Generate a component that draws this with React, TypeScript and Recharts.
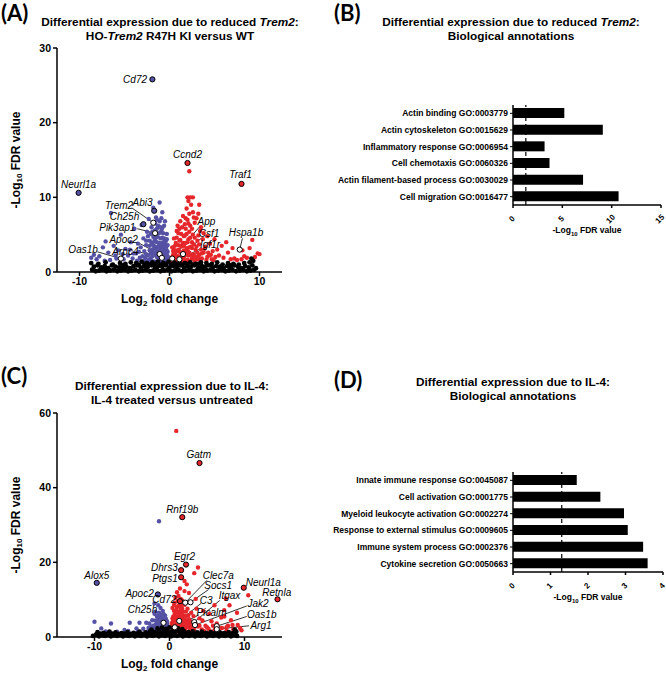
import React from 'react';
import { ScatterChart, Scatter, XAxis, YAxis, ReferenceLine, ReferenceDot, BarChart, Bar } from 'recharts';

const FONT = '"Liberation Sans", Arial, sans-serif';
const BLUE = '#5552a5';
const RED = '#e5262b';
const FDR_CUTOFF = 1.3; // -log10(0.05)

// ---- panel A: HO-Trem2 R47H KI vs WT ----
const blackA = [
  [-8.6, 0.3], [-8.2, 0.1], [-7.8, 0.2], [-7.4, 0.3], [-7.0, 0.1], [-6.6, 0.2], [-6.2, 0.3], [-5.8, 0.1], [-5.4, 0.2], [-5.0, 0.3],
  [-4.6, 0.1], [-4.2, 0.2], [-3.8, 0.3], [-3.4, 0.1], [-3.0, 0.2], [-2.6, 0.3], [-2.2, 0.1], [-1.8, 0.2], [-1.4, 0.3], [-1.0, 0.1],
  [-0.6, 0.2], [-0.2, 0.3], [0.2, 0.1], [0.6, 0.2], [1.0, 0.3], [1.4, 0.1], [1.8, 0.2], [2.2, 0.3], [2.6, 0.1], [3.0, 0.2],
  [3.4, 0.3], [3.8, 0.1], [4.2, 0.2], [4.6, 0.3], [5.0, 0.1], [5.4, 0.2], [5.8, 0.3], [6.2, 0.1], [6.6, 0.2], [7.0, 0.3],
  [7.4, 0.1], [7.8, 0.2], [8.2, 0.3], [8.6, 0.1], [9.0, 0.2], [9.4, 0.3],
  [-8.4, 0.7], [-8.0, 0.9], [-7.6, 0.6], [-7.2, 0.8], [-6.8, 0.5], [-6.4, 0.9], [-6.0, 0.7], [-5.6, 0.6], [-5.2, 0.9], [-4.8, 0.7],
  [-4.4, 0.5], [-4.0, 0.8], [-3.6, 0.9], [-3.2, 0.6], [-2.8, 0.8], [-2.4, 0.7], [-2.0, 0.9], [-1.6, 0.6], [-1.2, 0.8], [-0.8, 0.7],
  [-0.4, 0.9], [0.0, 0.6], [0.4, 0.8], [0.8, 0.7], [1.2, 0.9], [1.6, 0.6], [2.0, 0.8], [2.4, 0.7], [2.8, 0.9], [3.2, 0.6],
  [3.6, 0.8], [4.0, 0.7], [4.4, 0.9], [4.8, 0.6], [5.2, 0.8], [5.6, 0.7], [6.0, 0.5], [6.4, 0.8], [6.8, 0.6], [7.2, 0.9],
  [7.6, 0.7], [8.0, 0.5], [8.4, 0.8], [8.8, 0.6], [9.2, 0.9], [9.6, 0.5],
  [-8.7, 1.2], [-7.9, 1.1], [-7.1, 1.3], [-6.3, 1.0], [-5.5, 1.2], [-4.9, 1.1], [-4.3, 1.3], [-3.7, 1.2], [-3.1, 1.4], [-2.5, 1.2],
  [-1.9, 1.3], [-1.3, 1.4], [-0.7, 1.2], [-0.1, 1.4], [0.5, 1.3], [1.1, 1.4], [1.7, 1.2], [2.3, 1.3], [2.9, 1.1], [3.5, 1.3],
  [4.1, 1.2], [4.7, 1.1], [5.3, 1.3], [5.9, 1.0], [6.5, 1.2], [7.1, 1.1], [7.7, 1.0], [8.3, 1.2], [8.9, 1.3], [9.3, 1.5], [9.1, 1.8],
  [-3.4, 1.0], [-2.8, 1.1], [-2.2, 1.0], [-1.6, 1.1], [-1.0, 1.0], [-0.4, 1.1], [0.2, 1.0], [0.8, 1.1], [1.4, 1.0], [2.0, 1.1],
  [2.6, 1.0], [3.2, 1.1], [3.8, 0.4], [-5.2, 0.4], [-7.0, 0.5], [6.8, 0.9],
];
const blueA = [
  [-8.7, 1.9], [-8.4, 2.3], [-8.1, 1.7], [-7.8, 2.1], [-7.4, 3.3], [-7.1, 4.1], [-6.8, 2.6], [-6.5, 7.9], [-6.2, 3.5], [-5.9, 1.8],
  [-5.7, 2.9], [-5.4, 5.0], [-5.1, 1.7], [-4.9, 3.1], [-4.6, 2.2], [-4.3, 4.0], [-4.1, 1.8], [-3.9, 5.8], [-3.7, 2.5], [-3.5, 3.8],
  [-3.3, 1.9], [-3.1, 6.3], [-2.9, 4.5], [-2.8, 2.8], [-2.6, 3.6], [-2.5, 5.4], [-2.4, 2.2], [-2.3, 7.1], [-2.2, 4.2], [-2.1, 1.8],
  [-2.0, 6.0], [-1.9, 3.0], [-1.8, 8.6], [-1.7, 5.0], [-1.6, 2.5], [-1.5, 7.3], [-1.4, 4.0], [-1.3, 6.2], [-1.2, 2.0], [-1.1, 9.3],
  [-1.0, 3.2], [-0.9, 5.5], [-0.8, 8.0], [-0.7, 2.5], [-0.6, 4.5], [-0.5, 6.8], [-0.4, 2.0], [-0.3, 3.5], [-0.2, 1.8],
  [-2.8, 1.5], [-2.5, 1.4], [-2.2, 2.9], [-2.0, 1.5], [-1.9, 2.1], [-1.8, 3.6], [-1.7, 1.4], [-1.6, 4.4], [-1.5, 3.1], [-1.4, 2.0],
  [-1.3, 1.4], [-1.2, 3.5], [-1.1, 2.6], [-1.0, 1.5], [-1.0, 4.5], [-0.9, 2.2], [-0.9, 3.8], [-0.8, 1.4], [-0.8, 3.0], [-0.7, 4.0],
  [-0.7, 1.8], [-0.6, 2.8], [-0.6, 1.3], [-0.5, 3.0], [-0.5, 1.6], [-0.4, 2.6], [-0.3, 1.4], [-0.3, 2.3], [-0.2, 1.2], [-1.2, 5.2],
  [-1.4, 5.8], [-1.1, 6.8], [-0.9, 7.2], [-1.6, 6.5], [-2.4, 4.8], [-2.0, 3.9], [-1.3, 4.7], [-0.8, 5.9], [-0.6, 3.6], [-0.4, 4.2],
  [-0.3, 5.1], [-2.6, 2.4], [-3.0, 2.1], [-3.4, 2.7], [-1.9, 5.4], [-1.0, 6.0], [-1.7, 3.2], [-1.5, 2.3], [-0.2, 2.7],
  [-2.7, 1.9], [-2.3, 1.6], [-2.1, 2.5], [-1.9, 1.3], [-1.8, 2.6], [-1.7, 4.1], [-1.6, 3.4], [-1.5, 1.2], [-1.5, 4.8], [-1.4, 2.9],
  [-1.3, 3.1], [-1.2, 2.4], [-1.1, 1.6], [-1.1, 3.9], [-1.0, 2.3], [-1.0, 5.3], [-0.9, 1.6], [-0.9, 2.9], [-0.8, 3.5], [-0.8, 4.6],
  [-0.7, 3.3], [-0.7, 5.2], [-0.6, 2.2], [-0.6, 6.2], [-0.5, 2.5], [-0.5, 4.0], [-0.4, 1.5], [-0.4, 3.2], [-0.3, 2.9], [-0.3, 4.4],
  [-0.2, 2.1], [-0.2, 3.6], [-2.2, 3.5], [-2.0, 2.7], [-2.3, 1.3], [-1.8, 4.7], [-1.6, 5.6], [-1.2, 6.1], [-1.4, 7.0], [-2.1, 5.1],
  [-2.6, 4.2], [-3.2, 3.3], [-3.6, 1.5], [-4.0, 2.5], [-4.4, 3.0], [-5.2, 2.4], [-6.0, 2.2], [-6.6, 1.6], [-7.2, 1.5],
];
const redA = [
  [0.2, 1.3], [0.3, 2.0], [0.4, 2.8], [0.5, 1.6], [0.6, 3.5], [0.7, 2.2], [0.8, 5.5], [0.9, 1.4], [1.0, 3.0], [1.1, 4.2],
  [1.2, 1.8], [1.2, 6.8], [1.3, 2.6], [1.4, 3.6], [1.5, 7.5], [1.5, 1.5], [1.6, 4.8], [1.7, 2.2], [1.8, 5.8], [1.9, 8.5],
  [1.9, 3.2], [2.0, 10.0], [2.0, 1.6], [2.1, 4.4], [2.1, 9.5], [2.2, 2.6], [2.3, 10.0], [2.3, 6.2], [2.4, 9.0], [2.4, 3.4],
  [2.5, 1.8], [2.6, 8.0], [2.6, 5.0], [2.7, 2.4], [2.8, 6.6], [2.9, 3.0], [3.0, 7.2], [3.0, 1.7], [3.1, 4.2], [3.2, 7.8],
  [3.3, 2.3], [3.4, 5.5], [3.5, 6.0], [3.5, 3.0], [3.6, 1.8], [3.8, 5.2], [3.8, 2.6], [4.0, 3.4], [4.1, 1.6], [4.2, 4.8],
  [4.4, 2.2], [4.5, 3.8], [4.7, 1.7], [4.8, 2.8], [5.0, 4.4], [5.1, 2.0], [5.3, 3.0], [5.5, 2.2], [5.8, 3.5], [6.0, 1.9],
  [6.3, 4.0], [6.5, 2.6], [6.8, 1.7], [7.0, 3.2], [7.2, 1.8], [7.5, 1.6], [8.0, 1.7], [8.1, 2.9], [8.3, 2.1], [8.6, 1.9],
  [8.9, 3.2], [9.2, 4.3], [9.5, 2.0], [9.8, 2.5], [10.0, 2.4], [2.2, 13.5], [0.5, 4.5], [0.7, 1.9], [1.0, 2.1], [1.3, 5.1],
  [1.6, 2.9], [1.7, 6.4], [2.0, 7.0], [2.5, 4.0], [2.8, 1.5], [3.2, 2.0], [3.7, 4.4], [4.3, 2.6], [0.4, 1.1], [1.1, 1.2],
  [0.9, 6.2], [2.6, 10.0], [3.3, 9.0],
  [0.3, 1.6], [0.4, 2.3], [0.5, 3.0], [0.6, 1.3], [0.6, 2.6], [0.7, 3.9], [0.8, 1.7], [0.8, 4.6], [0.9, 2.9], [1.0, 3.6],
  [1.0, 5.2], [1.1, 1.9], [1.1, 2.7], [1.2, 4.3], [1.3, 1.5], [1.3, 3.4], [1.4, 2.2], [1.4, 6.0], [1.5, 3.9], [1.6, 1.9],
  [1.6, 3.5], [1.7, 4.9], [1.8, 2.5], [1.8, 3.9], [1.9, 1.5], [1.9, 5.1], [2.0, 2.9], [2.0, 4.0], [2.1, 2.2], [2.1, 6.5],
  [2.2, 3.3], [2.2, 5.4], [2.3, 1.5], [2.3, 4.6], [2.4, 2.3], [2.5, 3.2], [2.5, 5.8], [2.6, 2.1], [2.7, 3.7], [2.8, 4.6],
  [2.9, 2.0], [3.0, 3.4], [3.1, 2.6], [3.2, 4.9], [3.3, 3.7], [3.4, 1.6], [3.6, 2.5], [3.9, 3.1], [4.2, 2.0], [4.6, 2.3],
  [4.9, 1.6], [2.2, 7.8], [1.8, 7.2], [2.7, 7.3], [1.1, 5.8], [0.5, 2.0], [0.3, 3.3],
];
const genesA = [
  { name: 'Cd72', x: -1.9, y: 25.8, up: false, lx: -2.5, ly: 25.8, align: 'end' },
  { name: 'Neurl1a', x: -10.1, y: 10.6, up: false, lx: -10.1, ly: 11.7, align: 'middle' },
  { name: 'Ccnd2', x: 2.0, y: 14.6, up: true, lx: 2.0, ly: 15.8, align: 'middle' },
  { name: 'Traf1', x: 8.0, y: 11.8, up: true, lx: 7.9, ly: 13.0, align: 'middle' },
  { name: 'Hspa1b', x: 7.8, y: 3.0, up: true, lx: 8.5, ly: 5.3, align: 'middle', sx: 8.1, sy: 4.5 },
  { name: 'Abi3', x: -1.7, y: 8.2, up: false, lx: -3.0, ly: 9.3, align: 'middle' },
  { name: 'Trem2', x: -1.8, y: 6.6, up: false, lx: -5.6, ly: 8.9, align: 'middle', sx: -4.2, sy: 8.6 },
  { name: 'Ch25h', x: -2.9, y: 6.4, up: false, lx: -5.0, ly: 7.4, align: 'middle' },
  { name: 'Pik3ap1', x: -1.6, y: 5.2, up: false, lx: -5.8, ly: 5.9, align: 'middle', sx: -3.6, sy: 5.8 },
  { name: 'Apoc2', x: -1.1, y: 2.4, up: false, lx: -5.1, ly: 4.3, align: 'middle', sx: -3.6, sy: 4.0 },
  { name: 'Arpc4', x: -0.85, y: 1.9, up: false, lx: -4.9, ly: 2.8, align: 'middle', sx: -3.4, sy: 2.7 },
  { name: 'Oas1b', x: -5.4, y: 1.8, up: false, lx: -9.6, ly: 3.0, align: 'middle', sx: -8.0, sy: 2.7 },
  { name: 'App', x: 0.3, y: 1.8, up: true, lx: 4.1, ly: 6.7, align: 'middle', sx: 3.3, sy: 6.0 },
  { name: 'Csf1', x: 1.5, y: 2.4, up: true, lx: 4.4, ly: 5.2, align: 'middle', sx: 3.5, sy: 4.5 },
  { name: 'Igf1r', x: 1.1, y: 1.7, up: true, lx: 4.5, ly: 3.7, align: 'middle', sx: 3.6, sy: 3.2 },
];

// ---- panel C: IL-4 treated vs untreated ----
const blackC = [
  [-10.2, 0.3], [-9.8, 0.6], [-9.4, 0.2], [-9.0, 0.5], [-8.6, 0.3], [-8.2, 0.6], [-7.8, 0.2], [-7.4, 0.5], [-7.0, 0.3], [-6.6, 0.6],
  [-6.2, 0.2], [-5.8, 0.5], [-5.4, 0.3], [-5.0, 0.6], [-4.6, 0.2], [-4.2, 0.5], [-3.8, 0.3], [-3.4, 0.6], [-3.0, 0.2], [-2.6, 0.5],
  [-2.2, 0.3], [-1.8, 0.6], [-1.4, 0.2], [-1.0, 0.5], [-0.6, 0.3], [-0.2, 0.6], [0.2, 0.2], [0.6, 0.5], [1.0, 0.3], [1.4, 0.6],
  [1.8, 0.2], [2.2, 0.5], [2.6, 0.3], [3.0, 0.6], [3.4, 0.2], [3.8, 0.5], [4.2, 0.3], [4.6, 0.6], [5.0, 0.2], [5.4, 0.5],
  [5.8, 0.3], [6.2, 0.6], [6.6, 0.2], [7.0, 0.5], [7.4, 0.3], [7.8, 0.6], [8.2, 0.2], [8.6, 0.5], [9.0, 0.3],
  [-9.6, 1.3], [-8.8, 1.1], [-8.0, 1.4], [-7.2, 1.2], [-6.4, 1.0], [-5.6, 1.3], [-4.8, 1.1], [-4.0, 1.4], [-3.2, 1.2], [-2.6, 1.5],
  [-2.0, 1.3], [-1.4, 1.6], [-0.8, 1.4], [-0.3, 1.7], [0.3, 1.5], [0.8, 1.7], [1.3, 1.4], [1.9, 1.6], [2.5, 1.3], [3.1, 1.5],
  [3.7, 1.2], [4.3, 1.4], [4.9, 1.1], [5.5, 1.3], [6.1, 1.0], [6.7, 1.2], [7.3, 1.0], [7.9, 1.3], [8.5, 1.1], [8.9, 1.4],
  [-1.6, 2.3], [-1.0, 2.5], [-0.5, 2.2], [0.0, 2.6], [0.5, 2.3], [1.1, 2.4], [-2.4, 2.0], [1.7, 2.1], [8.7, 2.0],
  [-9.2, 0.9], [-8.4, 0.8], [-7.6, 0.9], [-6.8, 0.8], [-6.0, 0.9], [-5.2, 0.8], [-4.4, 0.9], [-3.6, 0.8], [-2.9, 0.9], [-2.3, 1.0],
  [-1.7, 0.9], [-1.1, 1.0], [-0.5, 0.9], [0.1, 1.1], [0.7, 0.9], [1.6, 1.0], [2.2, 0.9], [2.8, 1.0], [3.4, 0.9], [4.0, 0.8],
  [4.6, 0.9], [5.2, 0.8], [5.8, 0.9], [6.4, 0.8], [7.0, 0.9], [7.6, 0.8], [8.2, 0.9],
];
const blueC = [
  [-10.0, 4.1], [-9.1, 2.3], [-7.8, 3.6], [-6.0, 1.9], [-5.3, 3.8], [-4.4, 2.3], [-4.2, 1.5], [-4.0, 3.8], [-3.1, 3.8], [-2.7, 3.6],
  [-2.0, 9.0], [-1.5, 8.5], [-1.6, 5.5], [-1.4, 31.0], [-8.5, 1.5], [-7.0, 1.4], [-5.5, 1.6], [-3.5, 2.2], [-2.9, 1.5], [-2.5, 2.6],
  [-2.3, 4.5], [-2.2, 2.0], [-2.0, 6.2], [-1.9, 3.2], [-1.8, 1.6], [-1.7, 4.2], [-1.5, 2.4], [-1.4, 6.5], [-1.3, 3.5], [-1.2, 1.8],
  [-1.1, 5.0], [-1.0, 2.8], [-0.9, 7.0], [-0.9, 4.0], [-0.8, 1.6], [-0.7, 3.0], [-0.6, 5.8], [-0.5, 2.2], [-0.4, 4.4], [-0.3, 1.7],
  [-0.3, 3.3], [-0.2, 2.5], [-1.6, 1.3], [-1.1, 1.3], [-0.6, 1.4], [-2.4, 1.4], [-1.3, 2.3], [-0.8, 2.4], [-0.5, 3.6], [-1.2, 4.4],
  [-1.0, 6.0],
  [-2.2, 3.0], [-2.0, 1.8], [-1.9, 4.4], [-1.8, 2.6], [-1.7, 5.6], [-1.6, 3.6], [-1.5, 1.6], [-1.5, 4.8], [-1.4, 2.8], [-1.3, 4.2],
  [-1.3, 5.5], [-1.2, 3.0], [-1.1, 2.0], [-1.1, 3.8], [-1.0, 4.8], [-0.9, 2.2], [-0.9, 5.5], [-0.8, 3.4], [-0.7, 2.0], [-0.7, 4.6],
  [-0.6, 3.2], [-0.5, 1.8], [-0.5, 5.0], [-0.4, 2.8], [-0.3, 4.0], [-0.2, 1.6], [-1.9, 6.8], [-1.2, 7.8], [-0.8, 6.2], [-2.8, 2.4],
];
const redC = [
  [0.9, 55.2], [3.8, 18.6], [3.3, 17.1], [2.0, 15.0], [2.3, 14.1], [1.4, 13.0], [2.6, 11.8], [1.2, 11.0], [3.5, 10.2], [0.8, 10.5],
  [2.0, 12.3], [1.6, 8.8], [1.0, 8.0], [2.4, 7.6], [0.6, 7.0], [1.8, 6.8], [1.3, 6.2], [2.9, 6.5], [0.5, 5.5], [1.1, 5.0],
  [2.2, 5.6], [0.4, 4.0], [0.9, 3.6], [1.6, 4.4], [2.6, 4.8], [0.3, 2.6], [0.7, 2.0], [1.2, 3.0], [1.9, 3.3], [2.4, 2.8],
  [0.5, 1.6], [1.0, 1.5], [1.5, 2.2], [2.1, 1.8], [2.8, 2.2], [3.3, 1.9], [3.8, 2.8], [4.3, 2.0], [4.8, 3.0], [5.2, 2.2],
  [5.6, 4.2], [6.0, 1.9], [6.5, 2.8], [6.9, 5.2], [7.3, 7.2], [7.3, 5.5], [7.5, 10.3], [7.8, 3.0], [8.2, 4.5], [8.5, 2.0],
  [9.1, 3.2], [9.4, 2.4], [10.5, 11.2], [9.0, 6.5], [8.0, 8.5], [6.0, 8.5], [5.3, 6.2], [4.5, 7.0], [4.0, 5.0], [3.0, 3.8],
  [1.7, 9.8], [1.0, 12.0], [1.5, 10.2], [0.8, 3.0], [0.6, 8.6], [3.6, 7.6], [2.2, 3.8], [1.3, 1.8], [2.7, 1.6], [4.6, 1.6],
  [5.5, 1.5], [6.6, 1.6], [7.6, 1.7], [8.8, 1.5], [9.6, 1.8],
  [0.3, 3.6], [0.4, 5.0], [0.4, 7.8], [0.5, 2.8], [0.6, 4.4], [0.7, 6.2], [0.7, 9.2], [0.8, 1.8], [0.8, 5.4], [0.9, 4.6],
  [0.9, 7.2], [1.0, 2.6], [1.0, 6.6], [1.1, 3.8], [1.1, 9.6], [1.2, 5.8], [1.2, 8.4], [1.3, 2.4], [1.3, 4.8], [1.4, 7.0],
  [1.4, 3.4], [1.5, 5.2], [1.5, 8.0], [1.6, 2.8], [1.6, 6.2], [1.7, 3.8], [1.7, 7.6], [1.8, 4.8], [1.9, 2.4], [1.9, 5.8],
  [2.0, 3.6], [2.0, 8.6], [2.1, 4.6], [2.2, 6.8], [2.3, 2.6], [2.4, 4.0], [2.5, 5.8], [2.6, 3.2], [2.8, 4.2], [3.0, 2.8],
  [3.2, 5.6], [3.5, 3.4], [4.0, 3.0], [4.4, 4.4], [5.0, 2.6], [5.8, 3.0], [6.3, 3.6], [7.0, 2.4], [7.6, 2.6], [8.4, 3.2],
];
const genesC = [
  { name: 'Gatm', x: 4.0, y: 46.6, up: true, lx: 3.9, ly: 48.8, align: 'middle' },
  { name: 'Rnf19b', x: 1.7, y: 32.1, up: true, lx: 1.7, ly: 34.2, align: 'middle' },
  { name: 'Egr2', x: 2.2, y: 19.4, up: true, lx: 2.0, ly: 21.6, align: 'middle' },
  { name: 'Dhrs3', x: 1.55, y: 17.9, up: true, lx: 1.1, ly: 18.5, align: 'end' },
  { name: 'Ptgs1', x: 1.55, y: 16.0, up: true, lx: 1.1, ly: 15.7, align: 'end' },
  { name: 'Clec7a', x: 2.1, y: 9.2, up: true, lx: 6.5, ly: 16.6, align: 'middle', sx: 5.0, sy: 15.2 },
  { name: 'Socs1', x: 2.8, y: 9.3, up: true, lx: 6.5, ly: 13.9, align: 'middle', sx: 5.2, sy: 12.7 },
  { name: 'Cd72', x: 1.4, y: 9.6, up: true, lx: 0.9, ly: 10.0, align: 'end' },
  { name: 'C3', x: 1.3, y: 4.3, up: true, lx: 4.9, ly: 9.9, align: 'middle', sx: 4.2, sy: 9.0 },
  { name: 'Itgax', x: 3.3, y: 4.0, up: true, lx: 8.0, ly: 11.0, align: 'middle', sx: 6.7, sy: 9.8 },
  { name: 'Picalm', x: 0.7, y: 2.6, up: true, lx: 5.6, ly: 6.6, align: 'middle', sx: 3.9, sy: 5.9 },
  { name: 'Jak2', x: 3.4, y: 3.2, up: true, lx: 11.8, ly: 8.9, align: 'middle', sx: 10.3, sy: 8.3 },
  { name: 'Oas1b', x: 6.3, y: 2.9, up: true, lx: 12.3, ly: 5.9, align: 'middle', sx: 10.3, sy: 5.5 },
  { name: 'Arg1', x: 6.3, y: 2.1, up: true, lx: 12.2, ly: 3.1, align: 'middle', sx: 10.6, sy: 3.0 },
  { name: 'Neurl1a', x: 9.9, y: 13.2, up: true, lx: 12.5, ly: 14.6, align: 'middle' },
  { name: 'Retnla', x: 14.4, y: 10.1, up: true, lx: 14.3, ly: 11.9, align: 'middle' },
  { name: 'Alox5', x: -9.7, y: 14.5, up: false, lx: -9.7, ly: 16.6, align: 'middle' },
  { name: 'Apoc2', x: -1.55, y: 11.4, up: false, lx: -2.1, ly: 11.6, align: 'end' },
  { name: 'Ch25h', x: -0.8, y: 3.8, up: false, lx: -3.6, ly: 7.4, align: 'middle', sx: -2.2, sy: 6.3 },
];

// ---- panels B and D: GO annotations ----
const termsB = [
  'Actin binding GO:0003779', 'Actin cytoskeleton GO:0015629', 'Inflammatory response GO:0006954',
  'Cell chemotaxis GO:0060326', 'Actin filament-based process GO:0030029', 'Cell migration GO:0016477',
];
const fdrB = [5.2, 9.1, 3.2, 3.7, 7.1, 10.7];
const termsD = [
  'Innate immune response GO:0045087', 'Cell activation GO:0001775', 'Myeloid leukocyte activation GO:0002274',
  'Response to external stimulus GO:0009605', 'Immune system process GO:0002376', 'Cytokine secretion GO:0050663',
];
const fdrD = [1.7, 2.33, 2.96, 3.06, 3.47, 3.59];

const AXIS = { stroke: '#000', strokeWidth: 1.5 };
const TICK = { fill: '#000', fontSize: 10.5, fontWeight: 700, fontFamily: FONT };

const toPts = (a: number[][]) => a.map(([x, y]) => ({ x, y }));
const dot = (color: string, r: number) => (p: any) => <circle cx={p.cx} cy={p.cy} r={r} fill={color} />;

function geneDot(p: any) {
  const g = p.payload;
  const fill = g.sx != null ? '#fff' : g.up ? RED : BLUE;
  return <circle cx={p.cx} cy={p.cy} r={2.6} fill={fill} stroke="#000" strokeWidth={1} />;
}

function FcTitle(props: any) {
  const { x, y, width } = props.viewBox;
  return (
    <text x={x + width / 2} y={y + 31} textAnchor="middle" fontSize={12} fontWeight={700} fontFamily={FONT} fill="#000">
      Log<tspan dy={3} fontSize={8}>2</tspan><tspan dy={-3}> fold change</tspan>
    </text>
  );
}

function FdrTitle(props: any) {
  const { x, y, height } = props.viewBox;
  const cx = x + 9, cy = y + height / 2;
  return (
    <text x={cx} y={cy} transform={`rotate(-90, ${cx}, ${cy})`} textAnchor="middle" dominantBaseline="central"
      fontSize={12} fontWeight={700} fontFamily={FONT} fill="#000">
      -Log<tspan dy={3} fontSize={8}>10</tspan><tspan dy={-3}> FDR value</tspan>
    </text>
  );
}

function Volcano({ left, top, black, blue, red, genes, xDomain, yDomain, xTicks, yTicks }: any) {
  return (
    <div style={{ position: 'absolute', left, top }}>
      <ScatterChart width={300} height={310} margin={{ top: 48, right: 18, left: 7, bottom: 8 }}>
        <XAxis type="number" dataKey="x" domain={xDomain} ticks={xTicks} interval={0} height={30}
          axisLine={AXIS} tickLine={AXIS} tickSize={4} tick={TICK} label={{ content: (p: any) => <FcTitle {...p} /> }} />
        <YAxis type="number" dataKey="y" domain={yDomain} ticks={yTicks} interval={0} width={50}
          axisLine={AXIS} tickLine={AXIS} tickSize={4} tick={TICK} label={{ content: (p: any) => <FdrTitle {...p} /> }} />
        <Scatter data={toPts(blue)} shape={dot(BLUE, 2.2)} isAnimationActive={false} />
        <Scatter data={toPts(red)} shape={dot(RED, 2.2)} isAnimationActive={false} />
        <Scatter data={toPts(black)} shape={dot('#000', 2.4)} isAnimationActive={false} />
        {genes.filter((g: any) => g.sx != null).map((g: any) => (
          <ReferenceLine key={'ln-' + g.name} segment={[{ x: g.sx, y: g.sy }, { x: g.x, y: g.y }]}
            stroke="#000" strokeWidth={0.8} ifOverflow="visible" />
        ))}
        <Scatter data={genes} shape={geneDot} isAnimationActive={false} />
        {genes.map((g: any) => (
          <ReferenceDot key={'lb-' + g.name} x={g.lx} y={g.ly} r={0} ifOverflow="visible"
            shape={(p: any) => (
              <text x={p.cx} y={p.cy} dy="0.35em" textAnchor={g.align} fontSize={10} fontStyle="italic"
                fontFamily={FONT} fill="#000">{g.name}</text>
            )} />
        ))}
      </ScatterChart>
    </div>
  );
}

function RotTick({ x, y, payload }: any) {
  const tx = x - 1, ty = y + 9;
  return (
    <text x={tx} y={ty} transform={`rotate(-45, ${tx}, ${ty})`} textAnchor="middle" dominantBaseline="central"
      fontSize={8} fontWeight={700} fontFamily={FONT} fill="#000">{payload.value}</text>
  );
}

function TermTick({ x, y, payload }: any) {
  return (
    <text x={x} y={y} dy="0.35em" textAnchor="end" fontSize={8.5} fontWeight={700} fontFamily={FONT} fill="#000">
      {payload.value}
    </text>
  );
}

function BarTitle(props: any) {
  const { x, y, width } = props.viewBox;
  return (
    <text x={x + width / 2} y={y + 28} textAnchor="middle" fontSize={8.5} fontWeight={700} fontFamily={FONT} fill="#000">
      -Log<tspan dy={2.5} fontSize={6}>10</tspan><tspan dy={-2.5}> FDR value</tspan>
    </text>
  );
}

function GoBars({ left, top, height, marginTop, marginRight, terms, values, max, ticks }: any) {
  const data = terms.map((t: string, i: number) => ({ term: t, fdr: values[i] }));
  return (
    <div style={{ position: 'absolute', left, top }}>
      <BarChart layout="vertical" width={333} height={height} data={data} barSize={10}
        margin={{ top: marginTop, right: marginRight, left: 0, bottom: height - marginTop - 140 }}>
        <XAxis type="number" domain={[0, max]} ticks={ticks} interval={0} height={40}
          axisLine={AXIS} tickLine={AXIS} tickSize={3} tick={<RotTick />} label={{ content: (p: any) => <BarTitle {...p} /> }} />
        <YAxis type="category" dataKey="term" width={180} interval={0} axisLine={AXIS}
          tickLine={{ stroke: '#000', strokeWidth: 1 }} tickSize={3} tick={<TermTick />} />
        <Bar dataKey="fdr" fill="#000" isAnimationActive={false} />
        <ReferenceLine x={FDR_CUTOFF} stroke="#000" strokeWidth={1.2} strokeDasharray="4 3" />
      </BarChart>
    </div>
  );
}

const titleStyle = (cx: number, top: number): React.CSSProperties => ({
  position: 'absolute', left: cx - 170, top, width: 340, textAlign: 'center',
  fontSize: 11.8, fontWeight: 700, lineHeight: '13.5px', color: '#000', fontFamily: FONT,
});
const tagStyle = (left: number, top: number): React.CSSProperties => ({
  position: 'absolute', left, top, fontSize: 22, fontWeight: 700, fontFamily: 'Lato, "Open Sans", sans-serif',
  color: '#000', lineHeight: '24px',
});

export default function App() {
  return (
    <div style={{ position: 'absolute', left: 0, top: 0, width: 666, height: 677, background: '#fff', overflow: 'hidden' }}>
      <Volcano left={0} top={0} black={blackA} blue={blueA} red={redA} genes={genesA}
        xDomain={[-12.5, 12.5]} yDomain={[0, 30]} xTicks={[-10, 0, 10]} yTicks={[0, 10, 20, 30]} />
      <Volcano left={0} top={365} black={blackC} blue={blueC} red={redC} genes={genesC}
        xDomain={[-15, 15]} yDomain={[0, 60]} xTicks={[-10, 0, 10]} yTicks={[0, 20, 40, 60]} />
      <GoBars left={333} top={0} height={260} marginTop={105} marginRight={5} terms={termsB} values={fdrB} max={15} ticks={[0, 5, 10, 15]} />
      <GoBars left={333} top={300} height={320} marginTop={172} marginRight={3} terms={termsD} values={fdrD} max={4} ticks={[0, 1, 2, 3, 4]} />

      <div style={tagStyle(1, 1)}>(A)</div>
      <div style={tagStyle(334, 1)}>(B)</div>
      <div style={tagStyle(1, 364)}>(C)</div>
      <div style={tagStyle(334, 368)}>(D)</div>

      <div style={titleStyle(170, 16)}>
        Differential expression due to reduced <i>Trem2</i>:<br />HO-<i>Trem2</i> R47H KI versus WT
      </div>
      <div style={titleStyle(511, 16)}>
        Differential expression due to reduced <i>Trem2</i>:<br />Biological annotations
      </div>
      <div style={titleStyle(172, 380)}>
        Differential expression due to IL-4:<br />IL-4 treated versus untreated
      </div>
      <div style={titleStyle(513, 376)}>
        Differential expression due to IL-4:<br />Biological annotations
      </div>
    </div>
  );
}
